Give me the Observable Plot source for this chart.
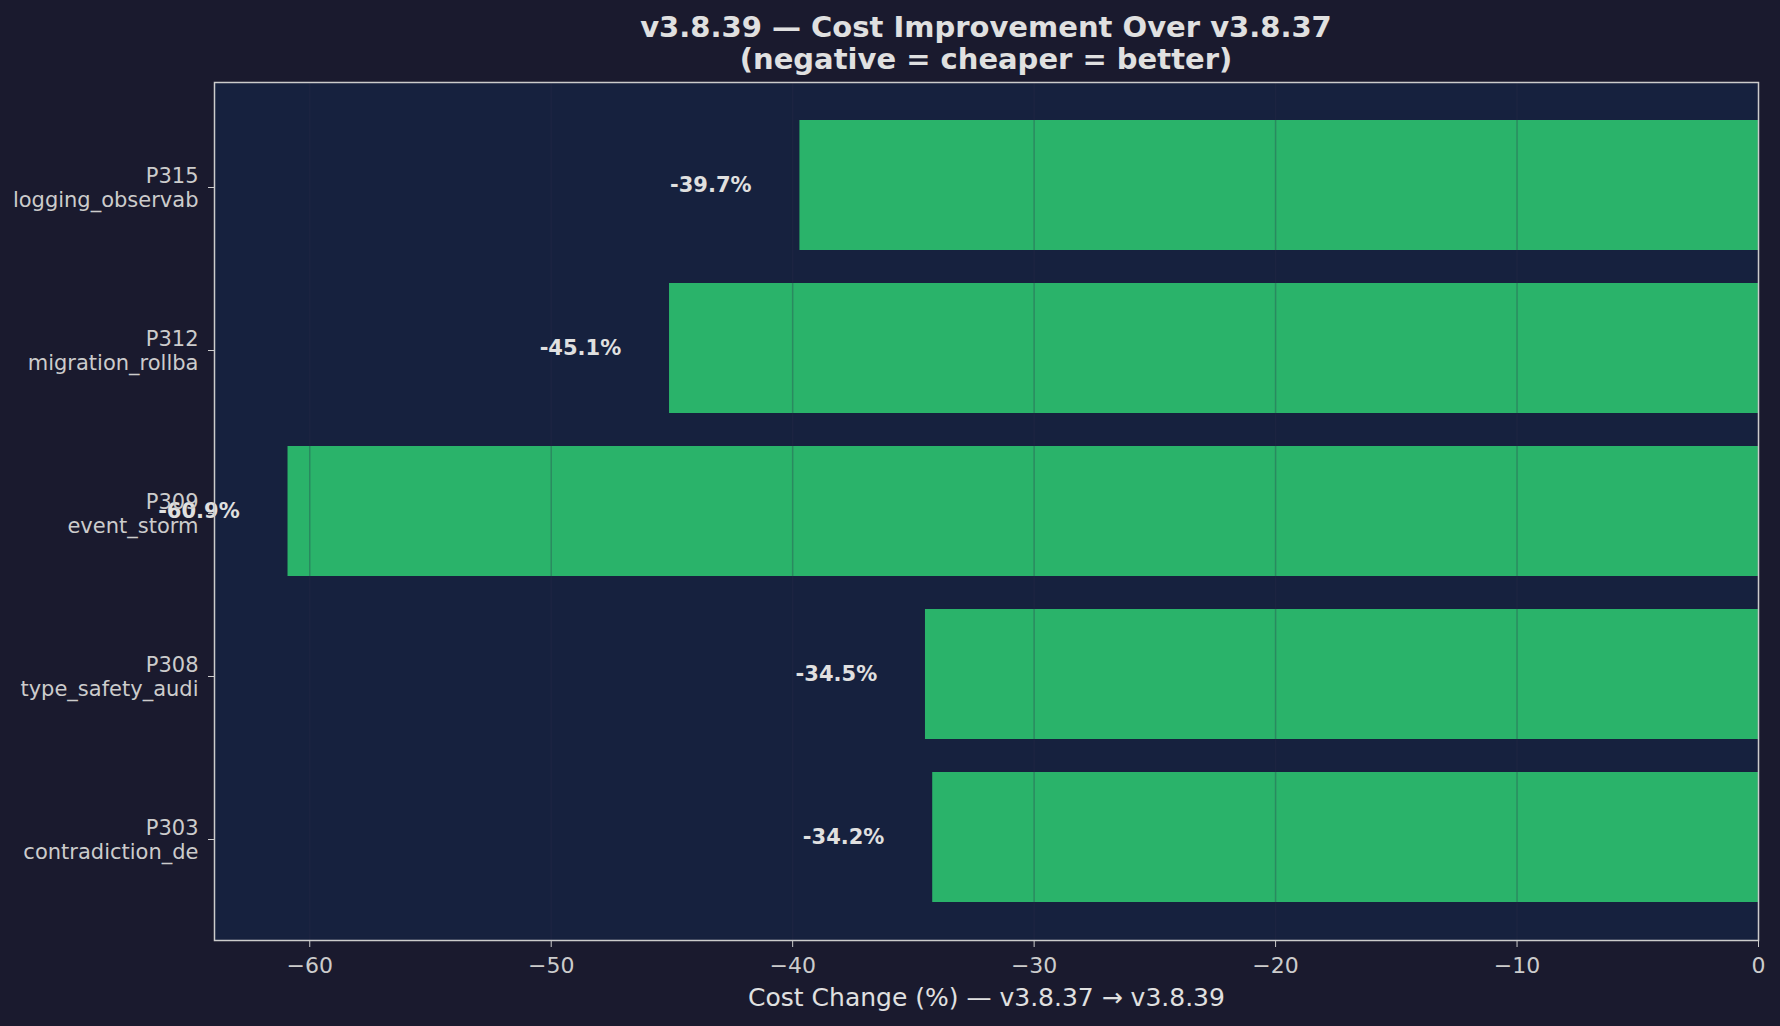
<!DOCTYPE html>
<html>
<head>
<meta charset="utf-8">
<script src="https://cdn.jsdelivr.net/npm/d3@7"></script>
<script src="https://cdn.jsdelivr.net/npm/@observablehq/plot@0.6"></script>
<style>
  html, body { margin: 0; padding: 0; background: #1a1a2e; }
  #wrap { width: 1780px; height: 1026px; background: #1a1a2e; overflow: hidden; }
  #title {
    box-sizing: border-box;
    height: 70px;
    padding: 11px 22px 0 214px;
    font-family: "DejaVu Sans", sans-serif;
    font-weight: bold;
    font-size: 29px;
    line-height: 32px;
    color: #e0e0e0;
    text-align: center;
    white-space: nowrap;
  }
  #chart svg { display: block; }
</style>
</head>
<body>
<div id="wrap">
  <div id="title">v3.8.39 — Cost Improvement Over v3.8.37<br>(negative = cheaper = better)</div>
  <div id="chart"></div>
</div>
<script>
// Categories, top to bottom
const ids = ["P315", "P312", "P309", "P308", "P303"];
const names = ["logging_observab", "migration_rollba", "event_storm", "type_safety_audi", "contradiction_de"];
// Cost change (%)
const values = [-39.7, -45.1, -60.9, -34.5, -34.2];
// X tick values
const xTicks = [-60, -50, -40, -30, -20, -10, 0];
const xLabel = "Cost Change (%) — v3.8.37 → v3.8.39";

const rows = ids.map((id, i) => ({ id, name: names[i], value: values[i] }));
const labelOf = Object.fromEntries(rows.map(r => [r.id, r.id + "\n" + r.name]));
const xMin = d3.min(values) * 1.05;

const chart = Plot.plot({
  width: 1780,
  height: 956,
  marginTop: 12,
  marginBottom: 86,
  marginLeft: 214,
  marginRight: 22,
  style: {
    background: "#1a1a2e",
    color: "#cccccc",
    fontFamily: "DejaVu Sans, sans-serif",
    fontSize: "21px"
  },
  x: { domain: [xMin, 0] },
  y: { domain: ids, paddingInner: 0.203, paddingOuter: 0.226, align: 0.5 },
  marks: [
    Plot.frame({ fill: "#16213e", stroke: null }),
    Plot.barX(rows, { y: "id", x1: 0, x2: "value", fill: "#2ab36a" }),
    Plot.gridX(xTicks, { stroke: "#2a2a4a", strokeOpacity: 0.3, strokeWidth: 1.5 }),
    Plot.text(rows, {
      y: "id",
      x: d => d.value - 2,
      text: d => d.value.toFixed(1) + "%",
      textAnchor: "end",
      fontWeight: "bold",
      fontSize: 21,
      fill: "#e0e0e0"
    }),
    Plot.axisX(xTicks, {
      anchor: "bottom",
      tickSize: 7,
      tickPadding: 10,
      tickFormat: d => (d < 0 ? "\u2212" + Math.abs(d) : String(d)),
      label: null,
      stroke: "#cccccc",
      fill: "#cccccc",
      fontSize: 22
    }),
    Plot.axisY({
      anchor: "left",
      tickSize: 6,
      tickPadding: 10,
      tickFormat: d => labelOf[d],
      lineHeight: 1.12,
      dy: 2,
      label: null,
      stroke: "#cccccc",
      fill: "#cccccc",
      fontSize: 21
    }),
    Plot.text([xLabel], {
      frameAnchor: "bottom",
      dy: 57,
      lineAnchor: "middle",
      fontSize: 25,
      fill: "#e0e0e0"
    }),
    Plot.frame({ stroke: "#cccccc", strokeWidth: 1.5 })
  ]
});
document.getElementById("chart").appendChild(chart);
</script>
</body>
</html>
